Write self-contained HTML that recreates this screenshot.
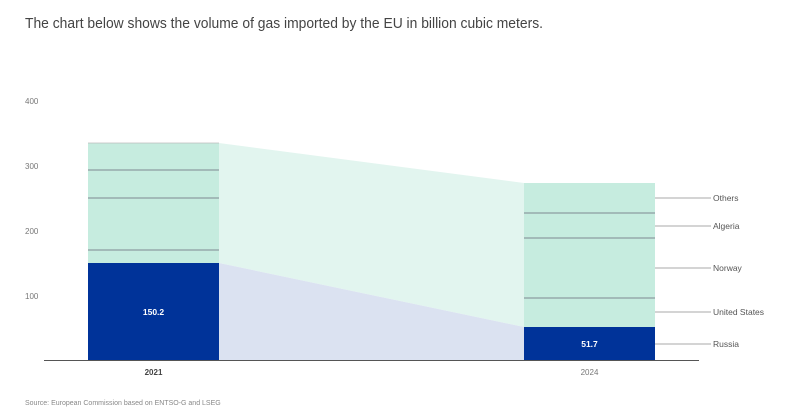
<!DOCTYPE html>
<html><head><meta charset="utf-8"><style>
body{margin:0;background:#fff;width:800px;height:415px;overflow:hidden;font-family:"Liberation Sans",sans-serif}
</style></head><body>
<svg width="800" height="415" xmlns="http://www.w3.org/2000/svg" font-family="Liberation Sans, sans-serif">
<text x="25" y="28" font-size="15" fill="#444" textLength="518" lengthAdjust="spacingAndGlyphs">The chart below shows the volume of gas imported by the EU in billion cubic meters.</text>
<g font-size="8" fill="#777">
<text x="25" y="104">400</text><text x="25" y="169">300</text><text x="25" y="234">200</text><text x="25" y="299">100</text>
</g>
<polygon points="219,143 524,183 524,327 219,263" fill="#e2f5ef"/>
<polygon points="219,263 524,327 524,360 219,360" fill="#dbe2f1"/>
<rect x="88" y="143" width="131" height="217" fill="#c6ecdf"/>
<rect x="88" y="263" width="131" height="97" fill="#003399"/>
<g stroke="#667" stroke-width="0.7">
<line x1="88" y1="143" x2="219" y2="143" stroke="#bbb"/>
<line x1="88" y1="170" x2="219" y2="170"/>
<line x1="88" y1="198" x2="219" y2="198"/>
<line x1="88" y1="250" x2="219" y2="250"/>
</g>
<rect x="524" y="183" width="131" height="177" fill="#c6ecdf"/>
<rect x="524" y="327" width="131" height="33" fill="#003399"/>
<g stroke="#667" stroke-width="0.7">
<line x1="524" y1="213" x2="655" y2="213"/>
<line x1="524" y1="238" x2="655" y2="238"/>
<line x1="524" y1="298" x2="655" y2="298"/>
</g>
<line x1="44" y1="360.5" x2="699" y2="360.5" stroke="#555" stroke-width="1"/>
<g stroke="#aaa" stroke-width="1">
<line x1="655" y1="198" x2="711" y2="198"/>
<line x1="655" y1="226" x2="711" y2="226"/>
<line x1="655" y1="268" x2="711" y2="268"/>
<line x1="655" y1="312" x2="711" y2="312"/>
<line x1="655" y1="344" x2="711" y2="344"/>
</g>
<g font-size="8.5" fill="#555">
<text x="713" y="201">Others</text><text x="713" y="229">Algeria</text><text x="713" y="271">Norway</text><text x="713" y="315">United States</text><text x="713" y="347">Russia</text>
</g>
<text x="153.5" y="315" font-size="8.5" font-weight="bold" fill="#fff" text-anchor="middle">150.2</text>
<text x="589.5" y="347" font-size="8.5" font-weight="bold" fill="#fff" text-anchor="middle">51.7</text>
<text x="153.5" y="375" font-size="8" font-weight="bold" fill="#444" text-anchor="middle">2021</text>
<text x="589.5" y="375" font-size="8" fill="#777" text-anchor="middle">2024</text>
<text x="25" y="405" font-size="7" fill="#888">Source: European Commission based on ENTSO-G and LSEG</text>
</svg>
</body></html>
